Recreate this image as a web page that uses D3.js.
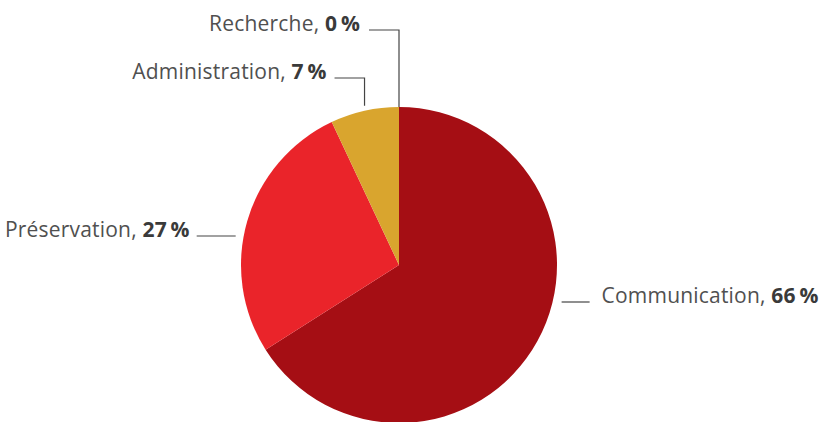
<!DOCTYPE html>
<html>
<head>
<meta charset="utf-8">
<script src="https://cdn.jsdelivr.net/npm/d3@7"></script>
<style>
  body { margin: 0; background: #fff; }
  text { font-family: "Open Sans", sans-serif; }
</style>
</head>
<body>
<svg id="pie" width="821" height="422"></svg>
<script>
// Slice data, clockwise from 12 o'clock
const categories = ["Communication", "Préservation", "Administration", "Recherche"]
const shares = [66, 27, 7, 0]
const colors = ["#a50e14", "#ea242a", "#d9a52e", "#8a8a8a"]

let svg = d3.select("#pie")
let cx = 399, cy = 265, radius = 158

let g = svg.append("g").attr("transform", "translate(" + cx + "," + cy + ")")

let pie = d3.pie().sort(null).value((d) => d.value)
let arc = d3.arc().innerRadius(0).outerRadius(radius)

let slices = pie(categories.map((c, i) => ({ name: c, value: shares[i], color: colors[i] })))

g.selectAll("path.slice")
  .data(slices)
  .enter().append("path")
    .attr("class", "slice")
    .attr("d", arc)
    .style("fill", (d) => d.data.color)

// Label layout: side labels get a horizontal leader at a given y offset,
// top labels get an elbow leader rising from the slice's mid angle.
const labelLayout = {
  "Communication":  { side: "right", dy: 37, off: 9, len: 28, gap: 12 },
  "Préservation":   { side: "left",  dy: -29, off: 8, len: 39, gap: 7 },
  "Administration": { side: "top",   ty: -187, len: 30, gap: 8 },
  "Recherche":      { side: "top",   ty: -235, len: 30, gap: 9 }
}

let labels = g.append("g").attr("class", "labels")

slices.forEach((d) => {
  let lay = labelLayout[d.data.name]
  let mid = d.value === 0 ? d.endAngle : (d.startAngle + d.endAngle) / 2
  let pts, tx, ty, anchor

  if (lay.side === "right" || lay.side === "left") {
    let dir = lay.side === "right" ? 1 : -1
    let edge = Math.sqrt(radius * radius - lay.dy * lay.dy)
    let x0 = dir * (edge + lay.off)
    let x1 = dir * (edge + lay.off + lay.len)
    pts = [[x0, lay.dy], [x1, lay.dy]]
    tx = x1 + dir * lay.gap
    ty = lay.dy + 1
    anchor = dir > 0 ? "start" : "end"
  } else {
    let px = radius * Math.sin(mid)
    let py = -radius * Math.cos(mid) - (d.value === 0 ? 0 : 5)
    pts = [[px, py], [px, lay.ty], [px - lay.len, lay.ty]]
    tx = px - lay.len - lay.gap
    ty = lay.ty + 1
    anchor = "end"
  }

  labels.append("path")
    .attr("d", d3.line()(pts))
    .attr("fill", "none")
    .attr("stroke", "#444")
    .attr("stroke-width", 1.2)

  let t = labels.append("text")
    .attr("x", tx)
    .attr("y", ty)
    .attr("text-anchor", anchor)
    .style("font-size", "21px")
    .style("letter-spacing", "0.2px")
    .style("fill", "#505050")
  t.append("tspan").text(d.data.name + ", ")
  t.append("tspan")
    .style("font-weight", "bold")
    .style("fill", "#3a3a3a")
    .text(d.data.value + "\u2009%")
})
</script>
</body>
</html>
